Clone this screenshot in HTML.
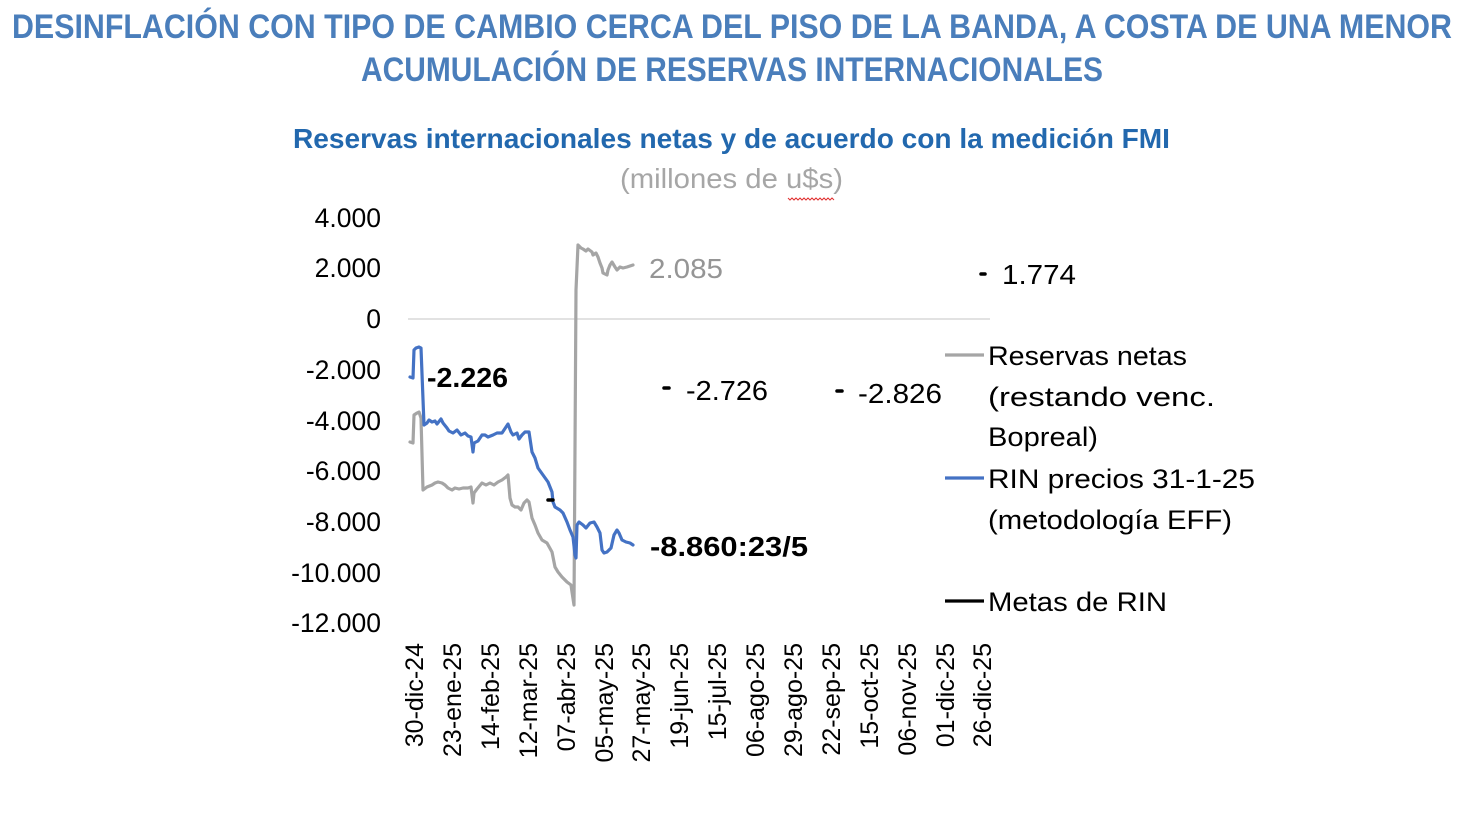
<!DOCTYPE html>
<html>
<head>
<meta charset="utf-8">
<style>
  html, body { margin:0; padding:0; background:#fff; }
  svg { display:block; }
  text { font-family: "Liberation Sans", sans-serif; }
</style>
</head>
<body>
<svg width="1463" height="822" viewBox="0 0 1463 822" xmlns="http://www.w3.org/2000/svg">
  <rect x="0" y="0" width="1463" height="822" fill="#ffffff"/>

  <!-- Titles -->
  <text x="12" y="38" font-size="34" font-weight="bold" fill="#4a7ebb" textLength="1440" lengthAdjust="spacingAndGlyphs">DESINFLACIÓN CON TIPO DE CAMBIO CERCA DEL PISO DE LA BANDA, A COSTA DE UNA MENOR</text>
  <text x="361" y="81" font-size="34" font-weight="bold" fill="#4a7ebb" textLength="742" lengthAdjust="spacingAndGlyphs">ACUMULACIÓN DE RESERVAS INTERNACIONALES</text>

  <text x="293" y="148" font-size="28" font-weight="bold" fill="#2268ae" textLength="877" lengthAdjust="spacingAndGlyphs">Reservas internacionales netas y de acuerdo con la medición FMI</text>
  <text x="620" y="188" font-size="28" fill="#a6a6a6" textLength="223" lengthAdjust="spacingAndGlyphs">(millones de u$s)</text>
  <polyline points="788,198 790,200 792,198 794,200 796,198 798,200 800,198 802,200 804,198 806,200 808,198 810,200 812,198 814,200 816,198 818,200 820,198 822,200 824,198 826,200 828,198 830,200 832,198 834,200" fill="none" stroke="#e03030" stroke-width="1"/>

  <!-- zero gridline -->
  <line x1="408" y1="319" x2="990" y2="319" stroke="#d9d9d9" stroke-width="1.5"/>

  <!-- Y tick labels -->
  <g font-size="26.5" fill="#000" text-anchor="end">
    <text x="381" y="227">4.000</text>
    <text x="381" y="277">2.000</text>
    <text x="381" y="328">0</text>
    <text x="381" y="379">-2.000</text>
    <text x="381" y="430">-4.000</text>
    <text x="381" y="480">-6.000</text>
    <text x="381" y="531">-8.000</text>
    <text x="381" y="582">-10.000</text>
    <text x="381" y="632">-12.000</text>
  </g>

  <!-- X tick labels -->
  <g font-size="25" fill="#000" text-anchor="end">
    <text transform="translate(423,643) rotate(-90)">30-dic-24</text>
    <text transform="translate(461,643) rotate(-90)">23-ene-25</text>
    <text transform="translate(499,643) rotate(-90)">14-feb-25</text>
    <text transform="translate(537,643) rotate(-90)">12-mar-25</text>
    <text transform="translate(575,643) rotate(-90)">07-abr-25</text>
    <text transform="translate(613,643) rotate(-90)">05-may-25</text>
    <text transform="translate(650,643) rotate(-90)">27-may-25</text>
    <text transform="translate(688,643) rotate(-90)">19-jun-25</text>
    <text transform="translate(726,643) rotate(-90)">15-jul-25</text>
    <text transform="translate(764,643) rotate(-90)">06-ago-25</text>
    <text transform="translate(802,643) rotate(-90)">29-ago-25</text>
    <text transform="translate(840,643) rotate(-90)">22-sep-25</text>
    <text transform="translate(878,643) rotate(-90)">15-oct-25</text>
    <text transform="translate(916,643) rotate(-90)">06-nov-25</text>
    <text transform="translate(954,643) rotate(-90)">01-dic-25</text>
    <text transform="translate(991,643) rotate(-90)">26-dic-25</text>
  </g>

  <!-- Gray series: Reservas netas -->
  <polyline fill="none" stroke="#a5a5a5" stroke-width="3.2" stroke-linejoin="round" stroke-linecap="round"
    points="410,442 413,443 414,415 417,413 419,412 421,418 423,490 427,487 432,485 435,483 438,482 442,483 445,485 448,488 452,490 455,488 459,489 463,488 468,488 471,487 473,503 474,493 477,489 482,483 486,485 490,483 494,485 498,482 502,480 506,477 508,475 510,498 512,505 515,507 518,507 521,510 524,503 527,500 529,502 532,518 535,525 538,533 542,540 547,543 552,552 555,567 558,572 562,577 567,582 571,585 572,592 574,605 576,290 578,245 581,248 583,249 586,251 588,249 592,252 593,255 596,253 598,257 600,263 602,268 603,273 607,275 608,270 610,265 612,262 615,267 617,270 620,267 623,268 627,267 630,266 633,265"/>

  <!-- Blue series: RIN -->
  <polyline fill="none" stroke="#4472c4" stroke-width="3.2" stroke-linejoin="round" stroke-linecap="round"
    points="410,377 413,378 414,350 416,348 419,347 421,348 424,425 427,423 429,420 432,422 435,421 437,424 441,419 443,423 447,428 449,431 453,433 457,430 461,435 465,433 468,436 471,437 473,452 474,443 478,441 482,435 485,435 488,437 493,435 497,433 502,433 506,427 508,424 511,432 513,435 517,433 519,439 522,435 525,432 529,432 532,452 535,458 538,468 543,475 548,482 552,492 553,502 555,507 560,510 563,513 567,522 570,530 573,537 575,555 576,558 577,525 579,522 583,525 586,528 590,523 594,522 597,527 600,533 602,550 604,553 607,552 611,548 614,535 617,530 619,533 622,540 626,542 630,543 633,545"/>

  <!-- Metas de RIN markers -->
  <g stroke="#000" stroke-width="3.5" stroke-linecap="round">
    <line x1="548" y1="500" x2="553" y2="500"/>
    <line x1="664" y1="388" x2="669" y2="388"/>
    <line x1="837" y1="391" x2="842" y2="391"/>
    <line x1="981" y1="274" x2="985" y2="274"/>
  </g>

  <!-- Data labels -->
  <text x="427" y="387" font-size="28" font-weight="bold" fill="#000" textLength="81" lengthAdjust="spacingAndGlyphs">-2.226</text>
  <text x="650" y="556" font-size="28" font-weight="bold" fill="#000" textLength="158" lengthAdjust="spacingAndGlyphs">-8.860:23/5</text>
  <text x="649" y="278" font-size="28" fill="#959595" textLength="74" lengthAdjust="spacingAndGlyphs">2.085</text>
  <text x="686" y="400" font-size="28" fill="#000" textLength="82" lengthAdjust="spacingAndGlyphs">-2.726</text>
  <text x="858" y="403" font-size="28" fill="#000" textLength="84" lengthAdjust="spacingAndGlyphs">-2.826</text>
  <text x="1002" y="284" font-size="28" fill="#000" textLength="74" lengthAdjust="spacingAndGlyphs">1.774</text>

  <!-- Legend -->
  <line x1="945" y1="355" x2="984" y2="355" stroke="#a5a5a5" stroke-width="3.2"/>
  <line x1="945" y1="478" x2="984" y2="478" stroke="#4472c4" stroke-width="3.2"/>
  <line x1="945" y1="601" x2="984" y2="601" stroke="#000" stroke-width="3.2"/>
  <g font-size="27" fill="#000">
    <text x="988" y="365" textLength="199" lengthAdjust="spacingAndGlyphs">Reservas netas</text>
    <text x="988" y="406" textLength="227" lengthAdjust="spacingAndGlyphs">(restando venc.</text>
    <text x="988" y="446" textLength="110" lengthAdjust="spacingAndGlyphs">Bopreal)</text>
    <text x="988" y="488" textLength="267" lengthAdjust="spacingAndGlyphs">RIN precios 31-1-25</text>
    <text x="988" y="529" textLength="244" lengthAdjust="spacingAndGlyphs">(metodología EFF)</text>
    <text x="988" y="611" textLength="179" lengthAdjust="spacingAndGlyphs">Metas de RIN</text>
  </g>
</svg>
</body>
</html>
